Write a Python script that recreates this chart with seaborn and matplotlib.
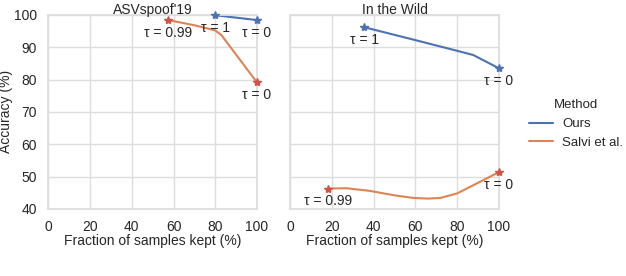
import matplotlib
matplotlib.use("Agg")
import matplotlib.pyplot as plt
import seaborn as sns
import pandas as pd

# ASVspoof'19 curves
asv_ours_x = [80, 100]
asv_ours_y = [99.9, 98.4]
asv_salvi_x = [57.5, 70, 80, 83, 100]
asv_salvi_y = [98.4, 96.8, 95.2, 93.7, 79.1]

# In the Wild curves
wild_ours_x = [35.5, 60, 80, 87.7, 100]
wild_ours_y = [96.2, 92.2, 88.9, 87.6, 83.5]
wild_salvi_x = [18.2, 27, 38, 50, 59, 66, 72, 80, 91, 100]
wild_salvi_y = [46.3, 46.4, 45.6, 44.2, 43.4, 43.2, 43.4, 44.8, 48.4, 51.4]

# threshold end points (x, y, label, method)
asv_taus = [(80, 99.9, "τ = 1", "Ours"), (100, 98.4, "τ = 0", "Ours"),
            (57.5, 98.4, "τ = 0.99", "Salvi et al."), (100, 79.1, "τ = 0", "Salvi et al.")]
wild_taus = [(35.5, 96.2, "τ = 1", "Ours"), (100, 83.5, "τ = 0", "Ours"),
             (18.2, 46.3, "τ = 0.99", "Salvi et al."), (100, 51.4, "τ = 0", "Salvi et al.")]

titles = ["ASVspoof'19", "In the Wild"]
methods = ["Ours", "Salvi et al."]
line_colors = {"Ours": "#4c72b0", "Salvi et al.": "#dd8452"}
star_colors = {"Ours": "#4c72b0", "Salvi et al.": "#d0524a"}


def make_df(ours_x, ours_y, salvi_x, salvi_y):
    return pd.concat([
        pd.DataFrame({"x": ours_x, "y": ours_y, "Method": "Ours"}),
        pd.DataFrame({"x": salvi_x, "y": salvi_y, "Method": "Salvi et al."}),
    ], ignore_index=True)


frames = [make_df(asv_ours_x, asv_ours_y, asv_salvi_x, asv_salvi_y),
          make_df(wild_ours_x, wild_ours_y, wild_salvi_x, wild_salvi_y)]
taus = [asv_taus, wild_taus]

sns.set_theme(style="whitegrid")
plt.rcParams["font.family"] = ["Liberation Sans", "DejaVu Sans"]
fs = 10

fig, axes = plt.subplots(1, 2, figsize=(6.26, 2.76), dpi=100, sharey=True)
fig.subplots_adjust(left=0.077, right=0.797, bottom=0.243, top=0.946, wspace=0.158)

for ax, df, tau, title in zip(axes, frames, taus, titles):
    sns.lineplot(data=df, x="x", y="y", hue="Method", hue_order=methods,
                 palette=line_colors, linewidth=1.5, ax=ax, legend=True)
    for x, y, label, m in tau:
        ax.plot(x, y, marker="*", markersize=6, color=star_colors[m],
                linestyle="none", clip_on=False, zorder=5)
        ax.annotate(label, (x, y), xytext=(0, -9), textcoords="offset points",
                    ha="center", va="center", fontsize=fs, color="#262626")
    ax.set_xlim(0, 100)
    ax.set_ylim(40, 100)
    ax.set_xticks([0, 20, 40, 60, 80, 100])
    ax.set_yticks([40, 50, 60, 70, 80, 90, 100])
    ax.set_title(title, fontsize=fs, pad=1)
    ax.set_xlabel("Fraction of samples kept (%)", fontsize=fs, labelpad=0)
    ax.set_ylabel("Accuracy (%)", fontsize=fs, labelpad=1)
    ax.tick_params(labelsize=fs, pad=2)
    for s in ax.spines.values():
        s.set_color("#dddddd")
    ax.grid(color="#dddddd", linewidth=1)

handles, labels = axes[0].get_legend_handles_labels()
for ax in axes:
    ax.get_legend().remove()
fig.legend(handles, labels, title="Method", loc="center left",
           bbox_to_anchor=(0.845, 0.55), frameon=False, fontsize=9.5,
           title_fontsize=9.5, handlelength=1.8, handletextpad=0.7,
           labelspacing=0.5, borderpad=0, borderaxespad=0)

plt.savefig("out.png", dpi=100)
plt.close()
